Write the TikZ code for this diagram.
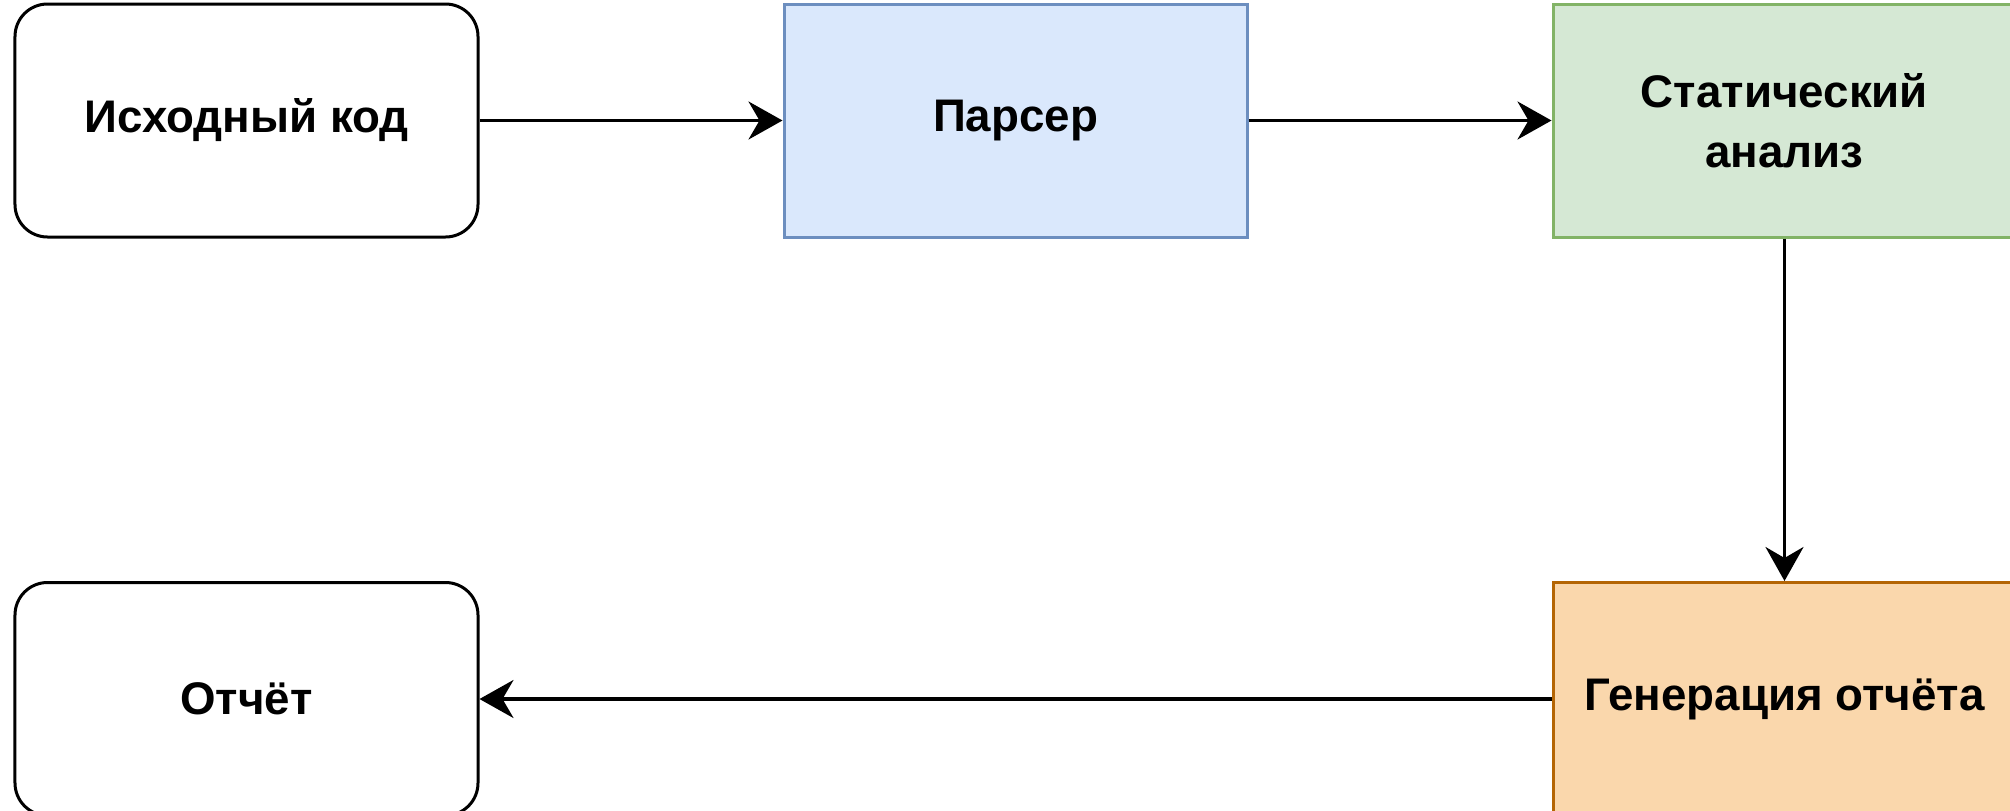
\documentclass[tikz,border=0pt]{standalone}
\usepackage{fontspec}
\setmainfont{Liberation Sans}
\usepackage{tikz}
\usetikzlibrary{positioning}
\usetikzlibrary{arrows.meta}

\definecolor{parserfill}{HTML}{DAE8FC}
\definecolor{parserdraw}{HTML}{6C8EBF}
\definecolor{staticfill}{HTML}{D5E8D4}
\definecolor{staticdraw}{HTML}{82B366}
\definecolor{reportfill}{HTML}{FAD7AC}
\definecolor{reportdraw}{HTML}{B46504}

\begin{document}
\begin{tikzpicture}[
    stage/.style={rectangle,minimum width=9.26cm,minimum height=4.66cm,inner sep=0pt,line width=0.06cm,align=center,font=\fontsize{26}{34}\selectfont\bfseries},
    endpoint/.style={stage,rounded corners=0.65cm,draw=black,fill=white},
    flow/.style={line width=0.065cm,-{Stealth[length=0.68cm,width=0.76cm,inset=0.22cm]}}
]
\useasboundingbox (0,0) rectangle (40.2,-16.22);
\clip (0,0) rectangle (40.2,-16.22);

\node[endpoint](src) at (4.93,-2.41){Исходный код};
\node[stage,draw=parserdraw,fill=parserfill,right = 6.06cm of src](parser){Парсер};
\node[stage,draw=staticdraw,fill=staticfill,right = 6.06cm of parser](static){Статический\\анализ};
\node[stage,draw=reportdraw,fill=reportfill,below = 6.85cm of static](gen){Генерация отчёта};
\node[endpoint,below = 6.85cm of src](report){Отчёт};

\draw[flow] (src) -- (parser);
\draw[flow] (parser) -- (static);
\draw[flow] (static) -- (gen);
\draw[flow] (gen) -- (report);

\end{tikzpicture}
\end{document}
